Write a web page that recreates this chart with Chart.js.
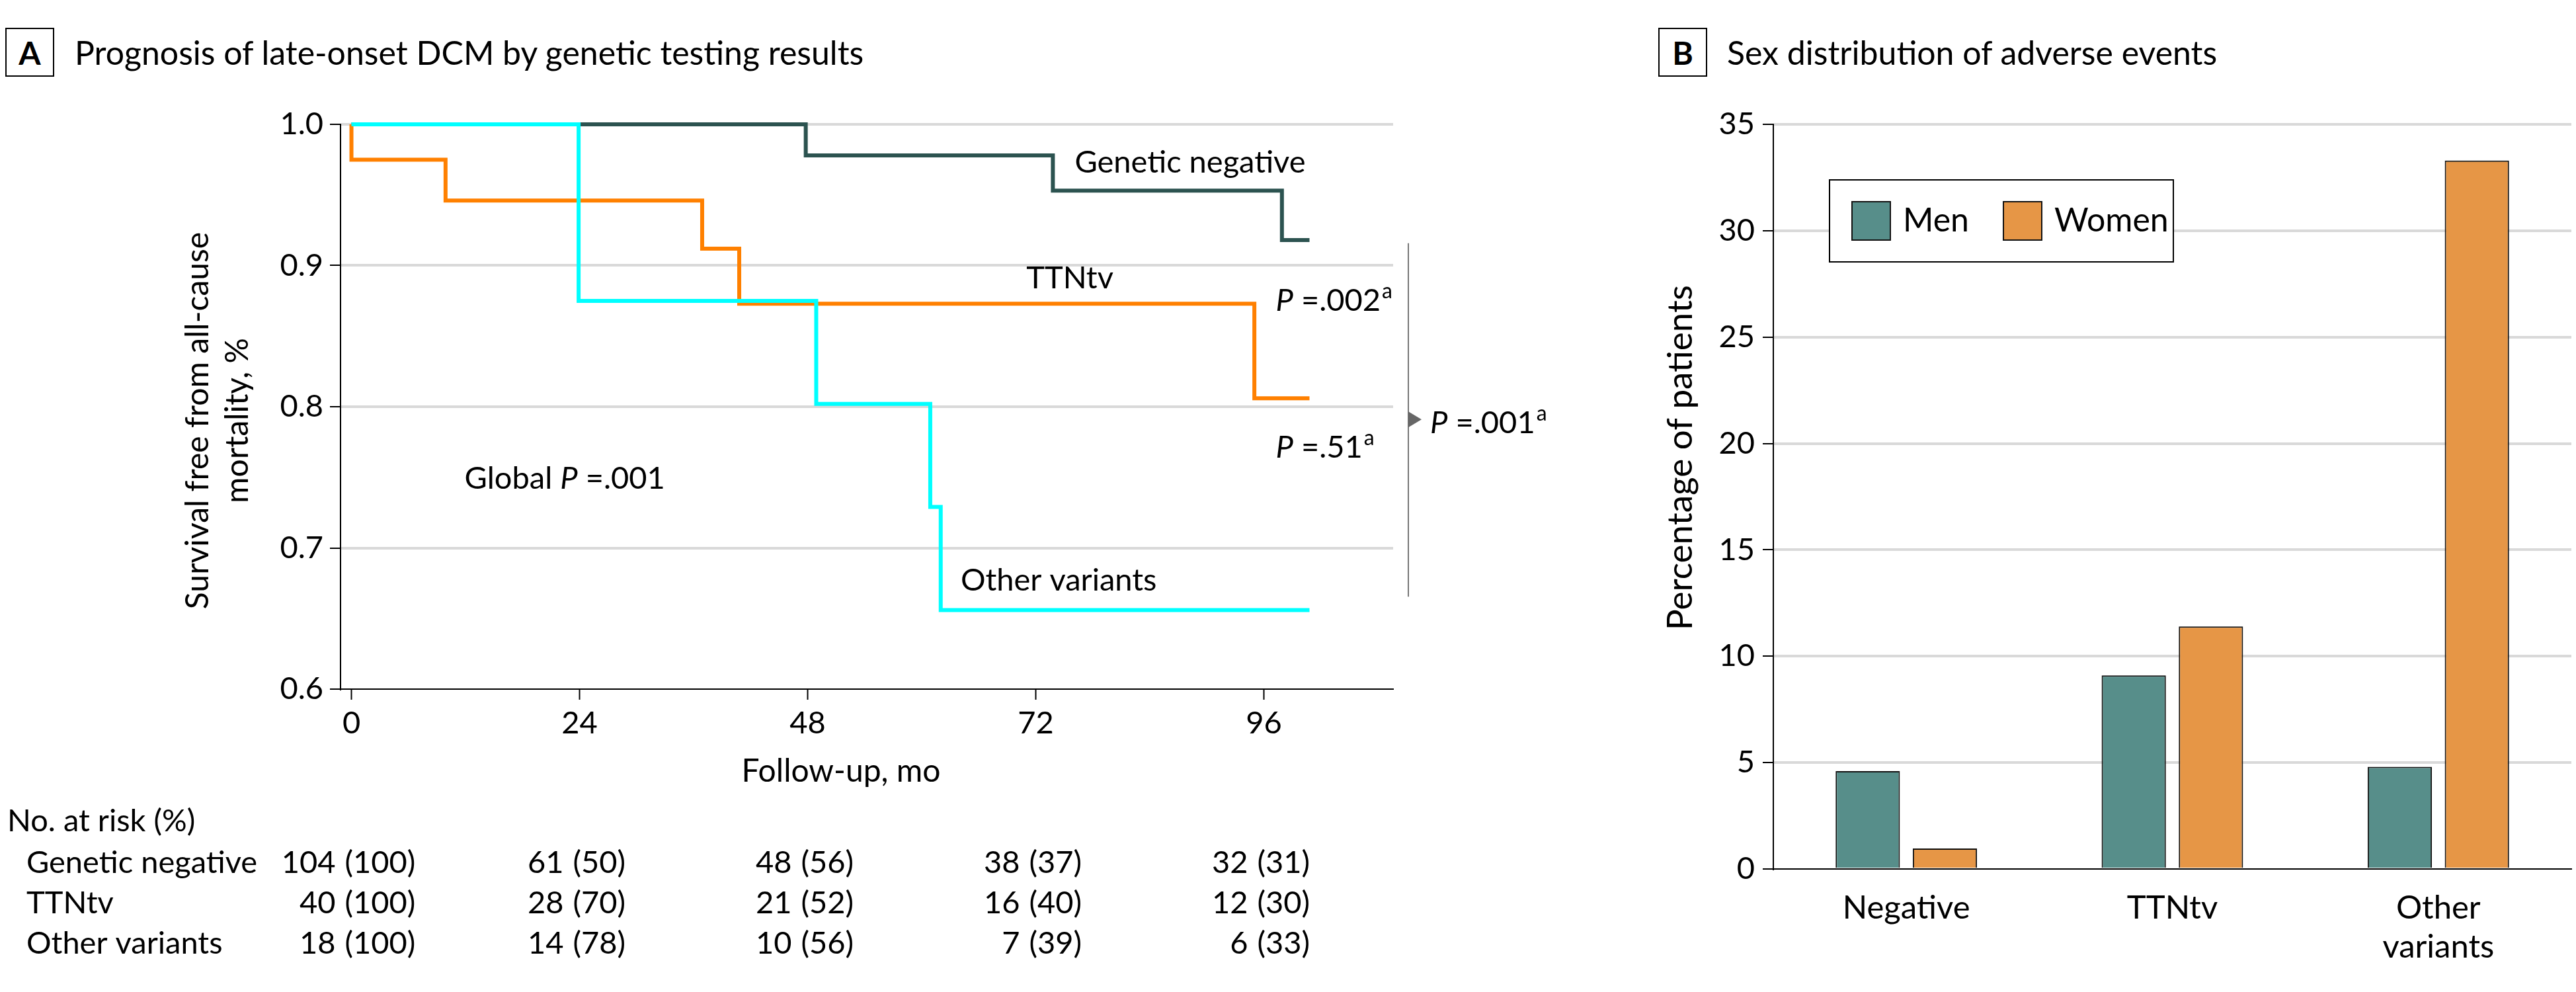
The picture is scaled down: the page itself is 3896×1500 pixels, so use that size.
<!DOCTYPE html>
<html>
<head>
<meta charset="utf-8">
<script src="https://cdn.jsdelivr.net/npm/chart.js@4.4.0/dist/chart.umd.min.js"></script>
<style>
  body { margin: 0; background: #fff; width: 3896px; height: 1500px; position: relative; overflow: hidden; font-family: Lato, sans-serif; }
  .tag { position: absolute; top: 42px; width: 70px; height: 70px; border: 2px solid #000; font: bold 48px Lato; display: flex; align-items: center; justify-content: center; }
  .title { position: absolute; top: 49px; font: 50px Lato; line-height: 60px; white-space: nowrap; }
  canvas { position: absolute; top: 0; }
</style>
</head>
<body>
<div class="tag" style="left:8px">A</div>
<div class="title" style="left:113px">Prognosis of late-onset DCM by genetic testing results</div>
<div class="tag" style="left:2508px">B</div>
<div class="title" style="left:2612px">Sex distribution of adverse events</div>
<canvas id="kmChart" width="2400" height="1500" style="left:0"></canvas>
<canvas id="barChart" width="1496" height="1500" style="left:2400px"></canvas>
<script>
'use strict';

// ************************* DATA **********************************
// panel A: Kaplan-Meier steps (months, survival)
const negTimes = [0, 47.8, 73.8, 97.9, 100.8];
const negSurv = [1, 0.978, 0.953, 0.918, 0.918];
const ttnTimes = [0, 0, 9.9, 36.9, 40.8, 95.0, 100.8];
const ttnSurv = [1, 0.975, 0.946, 0.912, 0.873, 0.806, 0.806];
const otherTimes = [0, 23.9, 48.9, 60.9, 62.0, 100.8];
const otherSurv = [1, 0.875, 0.802, 0.729, 0.656, 0.656];
const xTicks = [0, 24, 48, 72, 96];
const yTicks = [0.6, 0.7, 0.8, 0.9, 1.0];
const groupNames = ['Genetic negative', 'TTNtv', 'Other variants'];
const negAtRisk = [104, 61, 48, 38, 32];
const negAtRiskPct = [100, 50, 56, 37, 31];
const ttnAtRisk = [40, 28, 21, 16, 12];
const ttnAtRiskPct = [100, 70, 52, 40, 30];
const otherAtRisk = [18, 14, 10, 7, 6];
const otherAtRiskPct = [100, 78, 56, 39, 33];

// panel B: adverse events by sex
const categories = ['Negative', 'TTNtv', ['Other', 'variants']];
const menPct = [4.6, 9.1, 4.8];
const womenPct = [0.96, 11.4, 33.3];
const barTicks = [0, 5, 10, 15, 20, 25, 30, 35];

// ************************* STYLE **********************************
const FONT = 'Lato';
const NEG_COLOR = '#2c5350';
const TTN_COLOR = '#ff8000';
const OTHER_COLOR = '#00ffff';
const MEN_COLOR = '#578e8a';
const WOMEN_COLOR = '#e69646';
const GRID_COLOR = '#d9d9d9';

// ************************ HELPERS ********************************
const toPoints = (times, surv) => times.map((t, i) => ({ x: t, y: surv[i] }));

// draws a run of text pieces: [style, text], style = 'n' | 'i' | 'sup'
function drawRuns(ctx, x, y, runs, size) {
  ctx.save();
  ctx.textAlign = 'left';
  ctx.textBaseline = 'middle';
  ctx.fillStyle = '#000';
  let cx = x;
  for (const [style, text] of runs) {
    if (style === 'sup') {
      ctx.font = `${Math.round(size * 0.68)}px ${FONT}`;
      ctx.fillText(text, cx + 2, y - size * 0.3);
    } else {
      ctx.font = `${style === 'i' ? 'italic ' : ''}${size}px ${FONT}`;
      ctx.fillText(text, cx, y);
    }
    cx += ctx.measureText(text).width;
  }
  ctx.restore();
}

// annotation labels for panel A, anchored in data units
const kmLabels = [
  { x: 76.1, y: 0.9729, runs: [['n', 'Genetic negative']] },
  { x: 71.0, y: 0.891, runs: [['n', 'TTNtv']] },
  { x: 64.1, y: 0.6767, runs: [['n', 'Other variants']] },
  { x: 11.9, y: 0.749, runs: [['n', 'Global '], ['i', 'P'], ['n', ' =.001']] },
  { x: 97.25, y: 0.875, runs: [['i', 'P'], ['n', ' =.002'], ['sup', 'a']] },
  { x: 97.25, y: 0.771, runs: [['i', 'P'], ['n', ' =.51'], ['sup', 'a']] },
  { x: 113.5, y: 0.7885, runs: [['i', 'P'], ['n', ' =.001'], ['sup', 'a']] }
];

const kmExtras = {
  id: 'kmExtras',
  afterDraw(chart) {
    const { ctx, scales: { x, y } } = chart;
    for (const lab of kmLabels) {
      drawRuns(ctx, x.getPixelForValue(lab.x), y.getPixelForValue(lab.y), lab.runs, 47);
    }
    // bracket with arrow for the pairwise comparison
    const bx = x.getPixelForValue(111.2);
    ctx.save();
    ctx.strokeStyle = '#777';
    ctx.lineWidth = 2;
    ctx.beginPath();
    ctx.moveTo(bx, y.getPixelForValue(0.9158));
    ctx.lineTo(bx, y.getPixelForValue(0.6654));
    ctx.stroke();
    const ty = y.getPixelForValue(0.791);
    ctx.fillStyle = '#666';
    ctx.beginPath();
    ctx.moveTo(bx, ty - 12);
    ctx.lineTo(bx + 20, ty);
    ctx.lineTo(bx, ty + 12);
    ctx.closePath();
    ctx.fill();

    // axis titles
    ctx.fillStyle = '#000';
    ctx.font = `48px ${FONT}`;
    ctx.textAlign = 'center';
    ctx.textBaseline = 'middle';
    ctx.fillText('Follow-up, mo', 1272, 1167);
    ctx.save();
    ctx.translate(300, 636);
    ctx.rotate(-Math.PI / 2);
    ctx.fillText('Survival free from all-cause', 0, 0);
    ctx.fillText('mortality, %', 0, 60);
    ctx.restore();

    // number at risk table
    ctx.font = `47px ${FONT}`;
    ctx.textAlign = 'left';
    ctx.fillText('No. at risk (%)', 11, 1242);
    const rows = [[negAtRisk, negAtRiskPct], [ttnAtRisk, ttnAtRiskPct], [otherAtRisk, otherAtRiskPct]];
    rows.forEach(([counts, pcts], r) => {
      const rowY = 1305 + r * 61;
      ctx.textAlign = 'left';
      ctx.fillText(groupNames[r], 40, rowY);
      xTicks.forEach((t, c) => {
        const px = x.getPixelForValue(t);
        ctx.textAlign = 'right';
        ctx.fillText(String(counts[c]), px - 24, rowY);
        ctx.textAlign = 'left';
        ctx.fillText(`(${pcts[c]})`, px - 10, rowY);
      });
    });
    ctx.restore();
  }
};

// **************** PANEL A: SURVIVAL CURVES *************************
new Chart(document.getElementById('kmChart'), {
  type: 'line',
  data: {
    datasets: [
      { label: groupNames[2], data: toPoints(otherTimes, otherSurv), borderColor: OTHER_COLOR, order: 0 },
      { label: groupNames[1], data: toPoints(ttnTimes, ttnSurv), borderColor: TTN_COLOR, order: 1 },
      { label: groupNames[0], data: toPoints(negTimes, negSurv), borderColor: NEG_COLOR, order: 2 }
    ]
  },
  options: {
    responsive: false,
    animation: false,
    clip: false,
    datasets: {
      line: { stepped: true, borderWidth: 6, pointRadius: 0, fill: false, clip: false }
    },
    layout: { padding: { top: 188, right: 293, left: 0, bottom: 0 } },
    plugins: { legend: { display: false }, tooltip: { enabled: false } },
    scales: {
      x: {
        type: 'linear',
        min: -1.15,
        max: 109.6,
        afterBuildTicks: s => { s.ticks = xTicks.map(v => ({ value: v })); },
        afterFit: s => { s.height = 458; },
        grid: { drawOnChartArea: false, tickLength: 16, tickColor: '#000', tickWidth: 2 },
        border: { color: '#000', width: 2 },
        ticks: { color: '#000', font: { family: FONT, size: 47 }, padding: 8, maxRotation: 0, autoSkip: false }
      },
      y: {
        min: 0.6,
        max: 1.0,
        afterBuildTicks: s => { s.ticks = yTicks.map(v => ({ value: v })); },
        afterFit: s => { s.width = 515; },
        grid: {
          color: c => (c.tick && c.tick.value === 0.6 ? 'rgba(0,0,0,0)' : GRID_COLOR),
          lineWidth: 4, tickLength: 16, tickColor: '#000', tickWidth: 2
        },
        border: { color: '#000', width: 2 },
        ticks: { color: '#000', font: { family: FONT, size: 47 }, padding: 10, callback: v => v.toFixed(1) }
      }
    }
  },
  plugins: [kmExtras]
});

// **************** PANEL B: BARS *************************
const barExtras = {
  id: 'barExtras',
  afterDraw(chart) {
    const { ctx } = chart;
    ctx.save();
    ctx.fillStyle = '#000';
    ctx.font = `53px ${FONT}`;
    ctx.textAlign = 'center';
    ctx.textBaseline = 'middle';
    ctx.translate(142, 692);
    ctx.rotate(-Math.PI / 2);
    ctx.fillText('Percentage of patients', 0, 0);
    ctx.restore();

    // legend box
    ctx.save();
    ctx.fillStyle = '#fff';
    ctx.fillRect(367, 272, 520, 124);
    ctx.strokeStyle = '#000';
    ctx.lineWidth = 2;
    ctx.strokeRect(367, 272, 520, 124);
    const items = chart.data.datasets;
    const swatchX = [401, 630];
    items.forEach((ds, i) => {
      ctx.fillStyle = ds.backgroundColor;
      ctx.fillRect(swatchX[i], 305, 58, 58);
      ctx.strokeStyle = '#111';
      ctx.lineWidth = 2;
      ctx.strokeRect(swatchX[i], 305, 58, 58);
      ctx.fillStyle = '#000';
      ctx.font = `50px ${FONT}`;
      ctx.textAlign = 'left';
      ctx.textBaseline = 'middle';
      ctx.fillText(ds.label, swatchX[i] + 77, 334);
    });
    ctx.restore();
  }
};

new Chart(document.getElementById('barChart'), {
  type: 'bar',
  data: {
    labels: categories,
    datasets: [
      { label: 'Men', data: menPct, backgroundColor: MEN_COLOR },
      { label: 'Women', data: womenPct, backgroundColor: WOMEN_COLOR }
    ]
  },
  options: {
    responsive: false,
    animation: false,
    datasets: {
      bar: { categoryPercentage: 0.58, barPercentage: 0.833, borderColor: '#111', borderWidth: 2, borderSkipped: 'start' }
    },
    layout: { padding: { top: 188, right: 7, left: 0, bottom: 0 } },
    plugins: { legend: { display: false }, tooltip: { enabled: false } },
    scales: {
      x: {
        afterFit: s => { s.height = 186; },
        grid: { display: false },
        border: { color: '#000', width: 2 },
        ticks: { color: '#000', font: { family: FONT, size: 49, lineHeight: 1.2 }, padding: 22, maxRotation: 0 }
      },
      y: {
        min: 0,
        max: 35,
        afterBuildTicks: s => { s.ticks = barTicks.map(v => ({ value: v })); },
        afterFit: s => { s.width = 282; },
        grid: {
          color: c => (c.tick && c.tick.value === 0 ? 'rgba(0,0,0,0)' : GRID_COLOR),
          lineWidth: 4, tickLength: 16, tickColor: '#000', tickWidth: 2
        },
        border: { color: '#000', width: 2 },
        ticks: { color: '#000', font: { family: FONT, size: 47 }, padding: 12 }
      }
    }
  },
  plugins: [barExtras]
});
</script>
</body>
</html>
